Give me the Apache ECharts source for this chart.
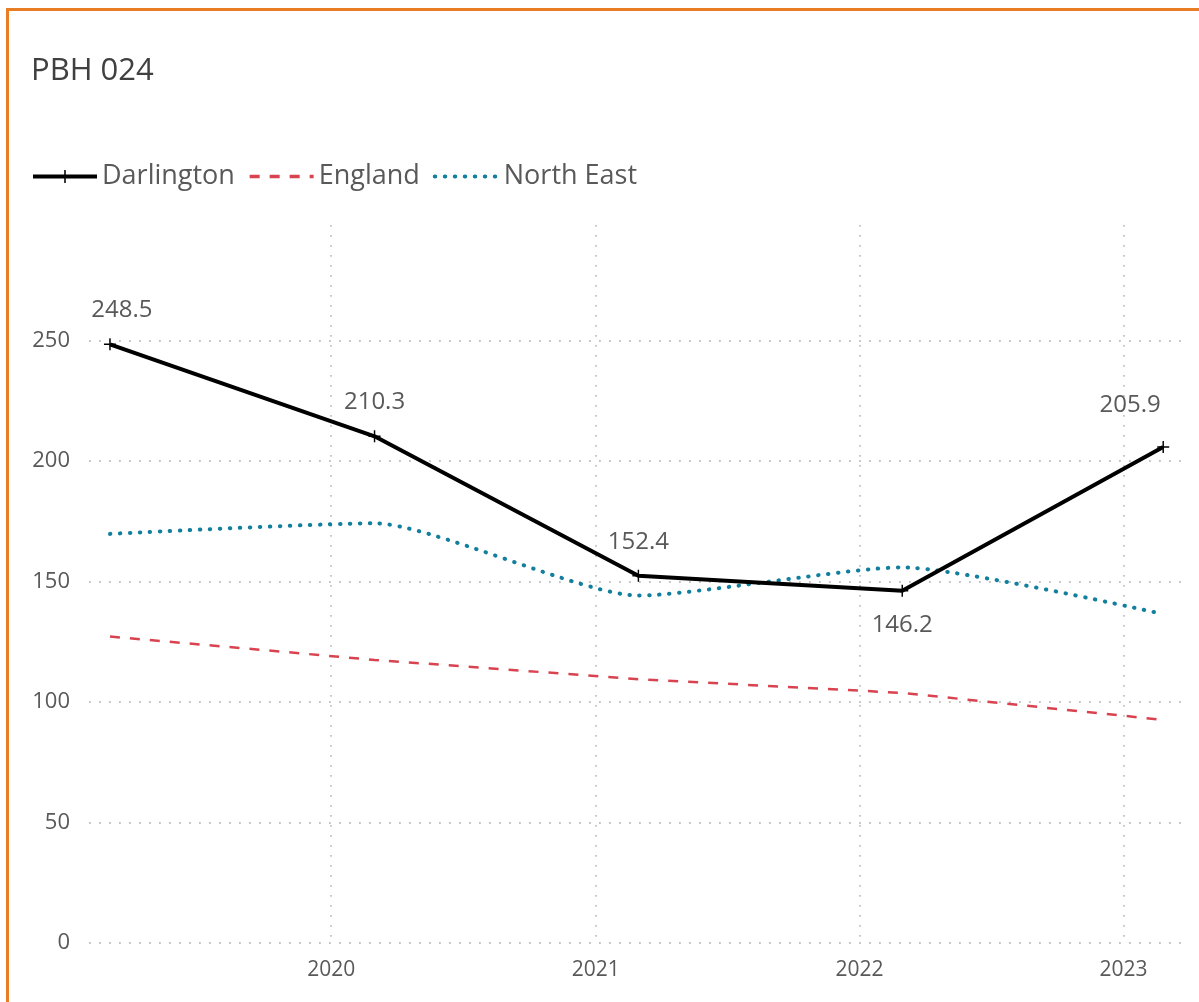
<!DOCTYPE html>
<html>
<head>
<meta charset="utf-8">
<script src="https://cdn.jsdelivr.net/npm/echarts@6/dist/echarts.min.js"></script>
<style>
  html, body { margin: 0; padding: 0; background: #fff; overflow: hidden; }
  #frame { position: absolute; left: 6px; top: 8px; width: 1400px; height: 1200px; border: 3px solid #E87D25; box-sizing: border-box; }
  #chart { position: absolute; left: 0; top: 0; width: 1199px; height: 1002px; }
</style>
</head>
<body>
<div id="frame"></div>
<div id="chart"></div>
<script>
// data
const dates = ['2019-03-01', '2020-03-01', '2021-03-01', '2022-03-01', '2023-02-25'];
const darlington = [248.5, 210.3, 152.4, 146.2, 205.9];
const england = [127.2, 117.5, 109.5, 103.8, 92.6];
const northEast = [169.8, 174.2, 144.2, 155.9, 136.5];
const yTicks = [0, 50, 100, 150, 200, 250];

const fontFam = '"Open Sans", "Noto Sans", sans-serif';
const greyText = '#595959';

// per point label placement for Darlington (above, except the 2022 dip)
const labelPlace = [
  { position: 'top', offset: [12, 0] },
  { position: 'top', offset: [0, 0] },
  { position: 'top', offset: [0, 0] },
  { position: 'bottom', offset: [0, 0] },
  { position: 'top', offset: [-33, -8] }
];

function pairs(vals) {
  return vals.map((v, i) => [dates[i], v]);
}

let darlData = darlington.map((v, i) => ({
  value: [dates[i], v],
  label: labelPlace[i]
}));

const plus = 'path://M4.4,0 H5.6 V4.4 H10 V5.6 H5.6 V10 H4.4 V5.6 H0 V4.4 H4.4 Z';

let chart = echarts.init(document.getElementById('chart'));

let option = {
  animation: false,
  textStyle: { fontFamily: fontFam },
  title: {
    text: 'PBH 024',
    left: 26,
    top: 51,
    textStyle: { fontSize: 31, fontWeight: 'normal', color: '#404040', fontFamily: fontFam }
  },
  legend: {
    left: 26,
    top: 158,
    itemWidth: 64,
    itemHeight: 16,
    itemGap: 13,
    textStyle: { fontSize: 27, color: greyText, fontFamily: fontFam },
    data: [
      { name: 'Darlington', lineStyle: { width: 4 } },
      { name: 'England', itemStyle: { opacity: 0 }, lineStyle: { width: 3.5 } },
      { name: 'North East', itemStyle: { opacity: 0 }, lineStyle: { width: 4 } }
    ]
  },
  grid: { left: 89, right: 17, top: 225, bottom: 59, containLabel: false },
  xAxis: {
    type: 'time',
    min: '2019-01-31',
    max: '2023-03-23',
    minInterval: 365 * 24 * 3600 * 1000,
    axisLine: { show: false },
    axisTick: { show: false },
    axisLabel: {
      fontSize: 21,
      color: greyText,
      margin: 17,
      formatter: function (val) {
        let d = new Date(val);
        return (d.getMonth() === 0 && d.getDate() === 1) ? String(d.getFullYear()) : '';
      }
    },
    splitLine: {
      show: true,
      showMinLine: false,
      showMaxLine: false,
      lineStyle: { color: '#c4c4c4', width: 1.8, type: [1.8, 8.2] }
    }
  },
  yAxis: {
    type: 'value',
    min: 0,
    max: 298,
    interval: 50,
    axisLine: { show: false },
    axisTick: { show: false },
    axisLabel: {
      fontSize: 22,
      color: greyText,
      margin: 19,
      showMaxLabel: false,
      formatter: v => (yTicks.indexOf(v) >= 0 ? String(v) : '')
    },
    splitLine: {
      show: true,
      showMaxLine: false,
      lineStyle: { color: '#c4c4c4', width: 1.8, type: [1.8, 8.2] }
    }
  },
  series: [
    {
      name: 'Darlington',
      type: 'line',
      z: 5,
      data: darlData,
      symbol: plus,
      symbolSize: 12,
      showSymbol: true,
      itemStyle: { color: '#000' },
      lineStyle: { color: '#000', width: 4 },
      label: {
        show: true,
        fontSize: 24,
        color: greyText,
        distance: 16,
        formatter: p => p.value[1].toFixed(1)
      }
    },
    {
      name: 'England',
      type: 'line',
      data: pairs(england),
      symbol: 'none',
      itemStyle: { color: '#D8434F' },
      lineStyle: { color: '#D8434F', width: 2.5, type: [10, 10] }
    },
    {
      name: 'North East',
      type: 'line',
      data: pairs(northEast),
      symbol: 'none',
      smooth: 0.2,
      itemStyle: { color: '#137F9E' },
      lineStyle: { color: '#137F9E', width: 4, type: [0.5, 9.5], cap: 'round' }
    }
  ]
};

chart.setOption(option);
</script>
</body>
</html>
